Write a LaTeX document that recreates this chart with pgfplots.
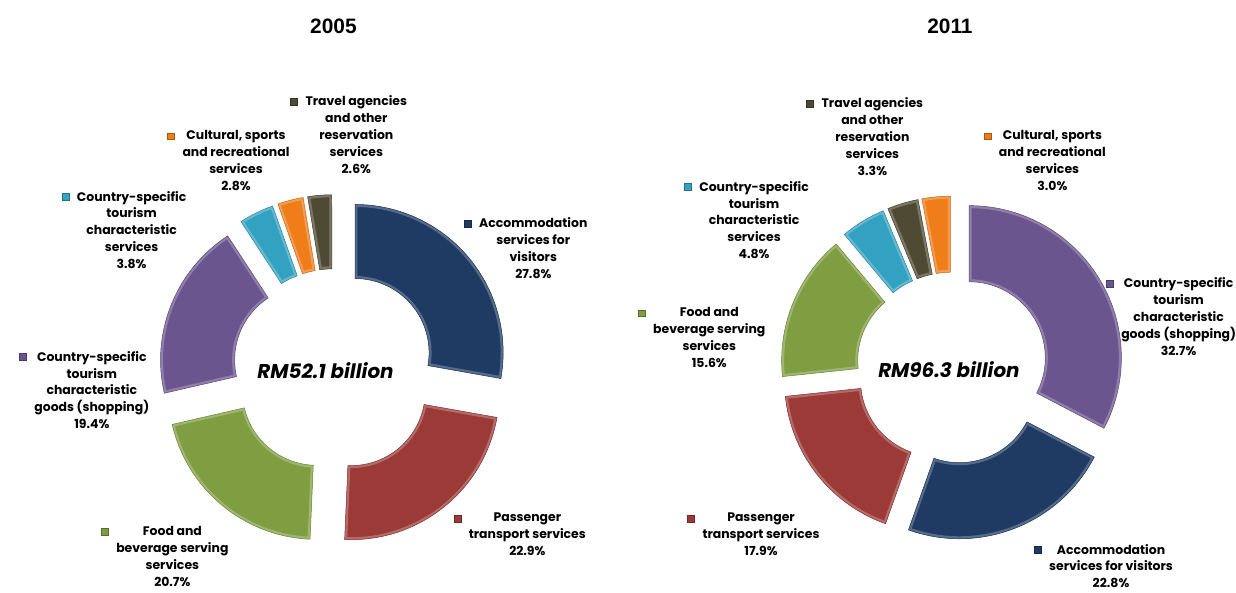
\documentclass[border=0pt]{standalone}
\usepackage{pgfplots}
\pgfplotsset{compat=1.18}
\usepackage{pgfplotstable}
\usepackage{fontspec}
\setmainfont{Poppins}
\newfontfamily\titlefont{Liberation Sans}

\definecolor{cAcc}{HTML}{1F3B63}
\definecolor{cPas}{HTML}{9C3A37}
\definecolor{cFood}{HTML}{7F9D41}
\definecolor{cGoods}{HTML}{6B558F}
\definecolor{cServ}{HTML}{33A1C2}
\definecolor{cCult}{HTML}{EE7D1A}
\definecolor{cTrav}{HTML}{4F4A33}

% shares in %, clockwise from 12 o'clock
\pgfplotstableread{
share col
27.8 cAcc
22.9 cPas
20.7 cFood
19.4 cGoods
3.8 cServ
2.8 cCult
2.6 cTrav
}\dataA
\pgfplotstableread{
share col
32.7 cGoods
22.8 cAcc
17.9 cPas
15.6 cFood
4.8 cServ
3.3 cTrav
3.0 cCult
}\dataB

% #1 table, #2 prefix, #3 cx, #4 cy, #5 explosion
\newcommand\prepdonut[5]{%
  \pgfplotstablegetrowsof{#1}%
  \pgfmathtruncatemacro\lastrow{\pgfplotsretval-1}%
  \gdef\tot{0}%
  \foreach \i in {0,...,\lastrow}{%
    \pgfplotstablegetelem{\i}{share}\of#1%
    \pgfmathsetmacro\tmpT{\tot+\pgfplotsretval}%
    \xdef\tot{\tmpT}}%
  \gdef\acc{90}%
  \foreach \i in {0,...,\lastrow}{%
    \pgfplotstablegetelem{\i}{share}\of#1%
    \pgfmathsetmacro\tmpE{\acc-\pgfplotsretval/\tot*360}%
    \pgfmathsetmacro\tmpM{(\acc+\tmpE)/2}%
    \pgfmathsetmacro\tmpX{#3+#5*cos(\tmpM)}%
    \pgfmathsetmacro\tmpY{#4+#5*sin(\tmpM)}%
    \expandafter\xdef\csname #2s\i\endcsname{\acc}%
    \expandafter\xdef\csname #2e\i\endcsname{\tmpE}%
    \expandafter\xdef\csname #2x\i\endcsname{\tmpX}%
    \expandafter\xdef\csname #2y\i\endcsname{\tmpY}%
    \pgfplotstablegetelem{\i}{col}\of#1%
    \expandafter\xdef\csname #2c\i\endcsname{\pgfplotsretval}%
    \xdef\acc{\tmpE}}%
}

% #1 prefix, #2 index, #3 outer radius, #4 inner radius
\newcommand\donutsector[4]{%
  \edef\sA{\csname #1s#2\endcsname}%
  \edef\eA{\csname #1e#2\endcsname}%
  \edef\oX{\csname #1x#2\endcsname}%
  \edef\oY{\csname #1y#2\endcsname}%
  \edef\cC{\csname #1c#2\endcsname}%
  \edef\secpath{(\sA:#3pt) arc[start angle=\sA, end angle=\eA, radius=#3pt]
    -- (\eA:#4pt) arc[start angle=\eA, end angle=\sA, radius=#4pt] -- cycle}%
  \edef\temp{%
    \noexpand\fill[\cC, shift={(axis cs:\oX,\oY)}] \secpath;
    \noexpand\begin{scope}[shift={(axis cs:\oX,\oY)}]
      \noexpand\clip \secpath;
      \noexpand\draw[line width=5pt, white, opacity=0.25] \secpath;
    \noexpand\end{scope}
    \noexpand\draw[\cC!85!black, line width=0.5pt, shift={(axis cs:\oX,\oY)}] \secpath;}%
  \temp}

\tikzset{lab/.style={align=center, anchor=north, inner sep=0pt,
  font=\fontsize{12.5}{17}\selectfont\bfseries, execute at begin node=\strut}}

% #1 x, #2 y of first line (pixels from top), #3 colour, #4 text
\newcommand\lab[4]{%
  \node[lab] (tmp) at (axis cs:#1,-#2+6) {#4};
  \draw[#3!70!black, fill=#3, line width=0.4pt]
    ([xshift=-15pt,yshift=-2.5pt]tmp.north west) rectangle ++(7pt,-7pt);}

\begin{document}
\prepdonut{\dataA}{A}{330.6}{-372.3}{27.5}
\prepdonut{\dataB}{B}{952.3}{-370.2}{20}
\begin{tikzpicture}
\begin{axis}[width=1236pt, height=592pt, scale only axis,
  xmin=0, xmax=1236, ymin=-592, ymax=0, hide axis, clip=false]
\path (axis cs:0,-592) rectangle (axis cs:1236,0);

\pgfplotsinvokeforeach{0,...,6}{\donutsector{A}{#1}{149}{74.5}}
\pgfplotsinvokeforeach{0,...,6}{\donutsector{B}{#1}{153}{76.5}}

\node[font=\titlefont\fontsize{21}{24}\selectfont\bfseries] at (axis cs:330,-26) {2005};
\node[font=\titlefont\fontsize{21}{24}\selectfont\bfseries] at (axis cs:950,-26) {2011};

\node[font=\fontsize{20}{24}\selectfont\bfseries\itshape] at (axis cs:322,-373) {RM52.1 billion};
\node[font=\fontsize{20}{24}\selectfont\bfseries\itshape] at (axis cs:949,-372) {RM96.3 billion};

% 2005
\lab{353}{102}{cTrav}{Travel agencies\\and other\\reservation\\services\\2.6\%}
\lab{232}{137}{cCult}{Cultural, sports\\and recreational\\services\\2.8\%}
\lab{127}{198}{cServ}{Country-specific\\tourism\\characteristic\\services\\3.8\%}
\lab{531}{225}{cAcc}{Accommodation\\services for\\visitors\\27.8\%}
\lab{87}{359}{cGoods}{Country-specific\\tourism\\characteristic\\goods (shopping)\\19.4\%}
\lab{168}{535}{cFood}{Food and\\beverage serving\\services\\20.7\%}
\lab{525}{522}{cPas}{Passenger\\transport services\\22.9\%}

% 2011
\lab{872}{104}{cTrav}{Travel agencies\\and other\\reservation\\services\\3.3\%}
\lab{1053}{137}{cCult}{Cultural, sports\\and recreational\\services\\3.0\%}
\lab{753}{188}{cServ}{Country-specific\\tourism\\characteristic\\services\\4.8\%}
\lab{708}{315}{cFood}{Food and\\beverage serving\\services\\15.6\%}
\lab{1180}{285}{cGoods}{Country-specific\\tourism\\characteristic\\goods (shopping)\\32.7\%}
\lab{760}{522}{cPas}{Passenger\\transport services\\17.9\%}
\lab{1112}{553}{cAcc}{Accommodation\\services for visitors\\22.8\%}
\end{axis}
\end{tikzpicture}
\end{document}
